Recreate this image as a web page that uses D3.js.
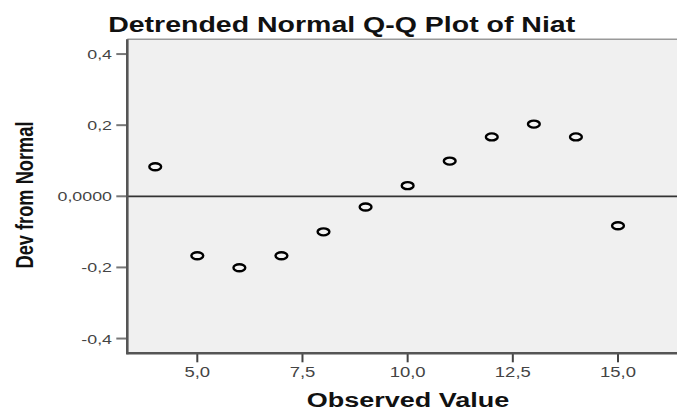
<!DOCTYPE html>
<html><head><meta charset="utf-8">
<script src="https://cdn.jsdelivr.net/npm/d3@7"></script>
<style>html,body{margin:0;padding:0;background:#fff;}svg{display:block;}</style>
</head><body>
<svg id="chart" width="677" height="412"></svg>
<script>
// Data
const observed = [4, 5, 6, 7, 8, 9, 10, 11, 12, 13, 14, 15];
const devFromNormal = [0.083, -0.167, -0.201, -0.167, -0.100, -0.030, 0.030, 0.099, 0.167, 0.203, 0.167, -0.083];
const xTicks = [5, 7.5, 10, 12.5, 15];
const yTicks = [-0.4, -0.2, 0, 0.2, 0.4];
const fmtX = d => d3.format(".1f")(d).replace(".", ",").replace("\u2212", "-");
const fmtY = d => d === 0 ? "0,0000" : d3.format(".1f")(d).replace(".", ",").replace("\u2212", "-");

const svg = d3.select("#chart");
const L = 127.3, R = 680, T = 39.3, B = 353.3;
const SX = 1.32; // horizontal stretch of text as in reference

const x = d3.scaleLinear().domain([3.336, 16.474]).range([L, R]);
const y = d3.scaleLinear().domain([-0.4415, 0.4415]).range([B, T]);

// plot background
svg.append("rect").attr("x", L).attr("y", T).attr("width", R - L).attr("height", B - T)
  .attr("fill", "#f0f0f0");
// top border
svg.append("line").attr("x1", L).attr("x2", R).attr("y1", T).attr("y2", T)
  .attr("stroke", "#999").attr("stroke-width", 1.5);

// zero reference line
svg.append("line").attr("x1", L).attr("x2", R).attr("y1", y(0)).attr("y2", y(0))
  .attr("stroke", "#333").attr("stroke-width", 1.8);

// y ticks
const yg = svg.append("g");
yg.selectAll("line").data(yTicks).join("line")
  .attr("x1", L - 11).attr("x2", L).attr("y1", d => y(d)).attr("y2", d => y(d))
  .attr("stroke", "#777").attr("stroke-width", 2);
yg.selectAll("text").data(yTicks).join("text")
  .attr("transform", d => `translate(112,${y(d) + 5}) scale(${SX},1)`)
  .attr("text-anchor", "end")
  .attr("font-family", "Liberation Sans, Arial, sans-serif").attr("font-size", 13.5)
  .attr("fill", "#444").text(fmtY);

// x ticks
const xg = svg.append("g");
xg.selectAll("line").data(xTicks).join("line")
  .attr("x1", d => x(d)).attr("x2", d => x(d)).attr("y1", B).attr("y2", B + 9)
  .attr("stroke", "#444").attr("stroke-width", 2);
xg.selectAll("text").data(xTicks).join("text")
  .attr("transform", d => `translate(${x(d)},377.3) scale(${SX},1)`)
  .attr("text-anchor", "middle")
  .attr("font-family", "Liberation Sans, Arial, sans-serif").attr("font-size", 14)
  .attr("fill", "#444").text(fmtX);

// axis lines
svg.append("line").attr("x1", L).attr("x2", L).attr("y1", T).attr("y2", B + 1)
  .attr("stroke", "#555").attr("stroke-width", 2.6);
svg.append("line").attr("x1", L - 1).attr("x2", R).attr("y1", B).attr("y2", B)
  .attr("stroke", "#555").attr("stroke-width", 2.6);

// points
svg.append("g").selectAll("ellipse").data(observed).join("ellipse")
  .attr("cx", (d) => x(d)).attr("cy", (d, i) => y(devFromNormal[i]))
  .attr("rx", 5.9).attr("ry", 3.5)
  .attr("fill", "#f4f4f4").attr("stroke", "#000").attr("stroke-width", 2.4);

// title
svg.append("text").attr("x", 341.7).attr("y", 31.7).attr("text-anchor", "middle")
  .attr("font-family", "Liberation Sans, Arial, sans-serif").attr("font-weight", "bold")
  .attr("font-size", 22.5).attr("fill", "#111")
  .attr("textLength", 467).attr("lengthAdjust", "spacingAndGlyphs")
  .text("Detrended Normal Q-Q Plot of Niat");

// x axis title
svg.append("text").attr("x", 408).attr("y", 406.5).attr("text-anchor", "middle")
  .attr("font-family", "Liberation Sans, Arial, sans-serif").attr("font-weight", "bold")
  .attr("font-size", 19.5).attr("fill", "#111")
  .attr("textLength", 202.6).attr("lengthAdjust", "spacingAndGlyphs")
  .text("Observed Value");

// y axis title
svg.append("text")
  .attr("transform", `translate(33,195) scale(${SX},1) rotate(-90)`)
  .attr("text-anchor", "middle")
  .attr("font-family", "Liberation Sans, Arial, sans-serif").attr("font-weight", "bold")
  .attr("font-size", 18.5).attr("fill", "#111")
  .attr("textLength", 147).attr("lengthAdjust", "spacingAndGlyphs")
  .text("Dev from Normal");
</script>
</body></html>
